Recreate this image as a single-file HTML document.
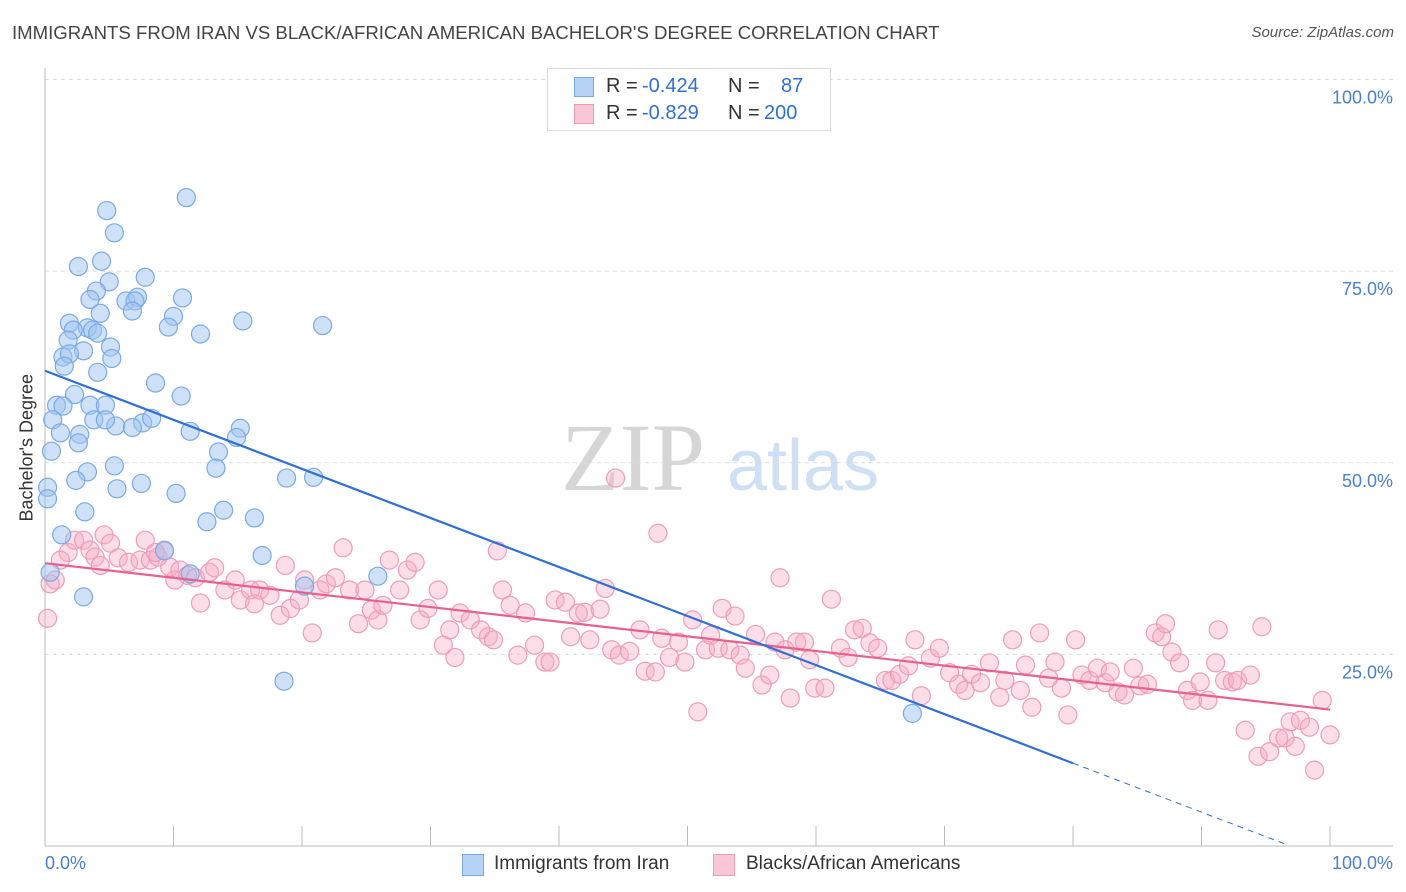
<!DOCTYPE html>
<html><head><meta charset="utf-8">
<style>
body{margin:0;background:#fff;font-family:"Liberation Sans",sans-serif;}
#wrap{position:relative;width:1406px;height:892px;overflow:hidden;}
.t{position:absolute;white-space:nowrap;}
</style></head>
<body>
<div id="wrap">
<div class="t" style="left:12px;top:22px;font-size:18.6px;color:#444;">IMMIGRANTS FROM IRAN VS BLACK/AFRICAN AMERICAN BACHELOR'S DEGREE CORRELATION CHART</div>
<div class="t" style="right:12px;top:24px;font-size:15px;color:#555;font-style:italic;">Source: ZipAtlas.com</div>
<svg id="svg" width="1406" height="892" style="position:absolute;left:0;top:0"></svg>
</div>
<script>
const blueX=[11.0,4.8,5.4,2.6,4.4,7.8,5.0,4.0,3.5,6.3,7.2,10.7,7.0,6.8,10.0,4.3,15.4,21.6,1.9,9.6,3.3,2.2,3.7,12.1,1.8,4.1,5.1,3.0,1.4,1.9,5.2,1.5,4.1,8.6,10.6,2.3,3.5,4.7,0.9,1.4,0.6,3.8,5.5,7.6,8.3,4.7,6.8,2.7,1.2,15.2,14.9,11.3,2.6,13.5,0.5,5.4,3.3,13.3,18.8,20.9,2.4,7.5,5.6,10.2,0.2,0.2,13.9,3.1,16.3,12.6,1.3,16.9,9.3,11.3,25.9,20.2,3.0,18.6,67.5,0.4];
const blueY=[84.6,82.9,80.0,75.6,76.3,74.2,73.6,72.4,71.3,71.1,71.6,71.5,71.1,69.8,69.1,69.5,68.5,67.9,68.2,67.7,67.6,67.3,67.3,66.8,66.0,66.9,65.1,64.6,63.8,64.2,63.6,62.6,61.8,60.4,58.7,58.9,57.5,57.5,57.5,57.4,55.6,55.6,54.8,55.2,55.8,55.6,54.6,53.7,53.9,54.5,53.3,54.1,52.6,51.4,51.5,49.6,48.8,49.3,48.0,48.1,47.7,47.3,46.6,46.0,46.8,45.3,43.8,43.6,42.8,42.3,40.6,37.9,38.5,35.5,35.2,33.9,32.5,21.5,17.3,35.7];
const pinkX=[44.4,47.7,0.2,0.4,0.8,1.8,2.3,3.0,3.5,3.9,4.6,5.1,5.7,6.5,7.4,7.8,8.2,8.8,9.3,9.7,10.1,10.5,11.1,11.7,12.1,12.8,13.2,14.0,14.8,15.2,16.0,16.3,16.7,17.5,18.7,18.3,19.1,19.8,20.2,20.8,21.4,21.9,22.6,23.2,23.7,24.4,24.9,25.4,25.9,26.3,26.8,27.6,28.2,28.8,29.2,29.8,30.6,31.0,31.5,31.9,32.3,33.1,33.9,34.5,34.9,35.2,35.6,36.2,36.8,37.4,38.1,38.9,39.3,39.7,40.5,40.9,41.5,42.0,42.4,43.2,43.6,44.1,44.7,45.5,46.3,46.7,47.5,48.0,48.6,49.3,49.8,50.4,50.8,51.4,51.8,52.4,52.7,53.3,53.7,54.1,54.5,55.3,55.8,56.4,56.8,57.2,57.6,58.0,58.5,59.1,59.5,59.9,60.7,61.2,61.9,62.5,63.0,63.6,64.2,64.8,65.4,65.9,66.5,67.2,67.7,68.2,68.9,69.6,70.4,71.1,71.6,72.1,72.8,73.5,74.3,74.7,75.3,75.9,76.3,76.8,77.4,78.1,78.6,79.1,79.6,80.2,80.7,81.3,81.9,82.5,82.9,83.5,84.0,84.7,85.2,85.8,86.4,86.9,87.2,87.7,88.3,88.9,89.3,89.9,90.5,91.1,91.3,91.8,92.4,92.8,93.4,93.8,94.4,94.7,95.3,96.0,96.5,96.9,97.3,97.7,98.4,98.8,99.4,100,1.2,4.3,8.6];
const pinkY=[48.0,40.8,29.7,34.2,34.7,38.3,39.9,39.9,38.6,37.7,40.6,39.5,37.6,37.0,37.3,39.9,37.3,37.7,38.6,36.4,34.7,36.0,35.3,35.0,31.7,35.7,36.3,33.4,34.7,32.1,33.4,31.6,33.4,32.7,36.6,30.1,31.0,32.1,34.7,27.8,33.4,34.2,35.0,38.9,33.4,29.0,33.4,30.8,29.5,31.4,37.3,33.4,36.0,37.0,29.5,31.0,33.4,26.2,28.2,24.6,30.4,29.5,28.2,27.3,26.9,38.5,33.4,31.4,24.9,30.4,26.2,24.0,24.0,32.1,31.8,27.3,30.4,30.5,26.9,30.9,33.6,25.6,24.9,25.4,28.2,22.8,22.7,27.1,24.6,26.6,24.0,29.5,17.5,25.6,27.5,25.8,31.0,25.6,30.0,24.9,23.2,27.6,21.0,22.3,26.6,35.0,25.6,19.3,26.6,26.6,24.3,20.6,20.6,32.2,25.8,24.6,28.2,28.4,26.5,25.8,21.6,21.6,22.4,23.5,26.9,19.6,24.5,25.8,22.6,21.1,20.3,22.4,21.3,23.9,19.4,21.6,26.9,20.3,23.6,18.1,27.8,21.9,24.0,20.6,17.1,26.9,22.3,21.6,23.2,21.3,22.7,20.1,19.7,23.2,20.9,21.1,27.8,27.3,29.0,25.3,23.9,20.3,19.0,21.4,19.0,23.9,28.2,21.6,21.4,21.6,15.1,22.3,11.7,28.6,12.3,14.1,14.1,16.2,13.0,16.4,15.5,9.9,19.0,14.5,37.3,36.6,38.3];
const blueTrend=[[0,62.0],[80,10.8]];
const blueTrendExt=[[80,10.8],[96.6,0.2]];
const pinkTrend=[[0,36.9],[100,17.8]];
const yTicks=[25,50,75,100];
const yTickLabels=["25.0%","50.0%","75.0%","100.0%"];
const xTicks=[0,10,20,30,40,50,60,70,80,90,100];

const L=45,R=1330,T=79.5,B=846;
const sx=v=>L+(R-L)*v/100;
const sy=v=>B-(B-T)*v/100;
const svg=document.getElementById('svg');
const NS='http://www.w3.org/2000/svg';
function mk(tag,attrs,parent){const e=document.createElementNS(NS,tag);for(const k in attrs)e.setAttribute(k,attrs[k]);(parent||svg).appendChild(e);return e;}

let w1=mk('text',{x:633,y:490,'font-size':96,'font-family':'Liberation Serif, serif',fill:'#d6d6d6','text-anchor':'middle'});
w1.textContent='ZIP';


let w2=mk('text',{x:803,y:490,'font-size':72,'font-family':'Liberation Sans, sans-serif',fill:'#cfe0f4','text-anchor':'middle'});
w2.textContent='atlas';



yTicks.forEach((v,i)=>{
  let g=mk('line',{x1:L,x2:1393,y1:sy(v),y2:sy(v),stroke:'#dcdcdc','stroke-dasharray':'4,4','stroke-width':1});
  
  
  let t=mk('text',{x:1393,y:sy(v)+24,'font-size':18,fill:'#4a7fd0','text-anchor':'end','font-family':'Liberation Sans, sans-serif'});
  t.textContent=yTickLabels[i];
  
  
});
let ya=mk('line',{x1:L,x2:L,y1:68,y2:B,stroke:'#bbb','stroke-width':1});


let xa=mk('line',{x1:L,x2:1393,y1:B,y2:B,stroke:'#bbb','stroke-width':1});


xTicks.forEach(v=>{
  let tk=mk('line',{x1:sx(v),x2:sx(v),y1:826,y2:B,stroke:'#bbb','stroke-width':1});
  
  
});
function pts(xs,ys,fill,stroke,name){
  xs.forEach((x,i)=>{
    let c=mk('circle',{cx:sx(x),cy:sy(ys[i]),r:9,fill:fill,stroke:stroke,'stroke-width':1.2});
    
    
  });
}
pts(pinkX,pinkY,'rgba(246,172,198,0.4)','#ef9cba','point-black-african-american');
pts(blueX,blueY,'rgba(160,196,240,0.5)','#7aaae6','point-iran');
function ln(p,stroke,w,dash,name){
  let l=mk('line',{x1:sx(p[0][0]),y1:sy(p[0][1]),x2:sx(p[1][0]),y2:sy(p[1][1]),stroke:stroke,'stroke-width':w});
  if(dash)l.setAttribute('stroke-dasharray',dash);
  
  
}
ln(pinkTrend,'#e8608e',2.2,null,'trend-line-black-african-american');
ln(blueTrend,'#2f6fd6',2.2,null,'trend-line-iran');
ln(blueTrendExt,'#2f6fd6',1,'6,5','trend-line-iran-extrapolated');
</script>
<div class="t" style="left:-38px;top:446px;font-size:18px;color:#333;transform:rotate(-90deg);width:130px;text-align:center;">Bachelor's Degree</div>
<div class="t" style="left:45px;top:853px;font-size:18px;color:#4a7fd0;">0.0%</div>
<div class="t" style="right:13px;top:853px;font-size:18px;color:#4a7fd0;">100.0%</div>
<div style="position:absolute;left:547px;top:68px;width:282px;height:61px;border:1px solid #ddd;background:#fff;font-size:20px;">
  <div style="position:absolute;left:26px;top:8px;width:18px;height:18px;background:#b6d2f4;border:1px solid #7aaae6;"></div>
  <div class="t" style="left:58px;top:6px;color:#333;">R =</div>
  <div class="t" style="left:94px;top:6px;color:#2f6fd6;">-0.424</div>
  <div class="t" style="left:180px;top:6px;color:#333;">N =</div>
  <div class="t" style="left:233px;top:6px;color:#2f6fd6;">87</div>
  <div style="position:absolute;left:26px;top:35px;width:18px;height:18px;background:#f9c6d6;border:1px solid #ef9cba;"></div>
  <div class="t" style="left:58px;top:33px;color:#333;">R =</div>
  <div class="t" style="left:94px;top:33px;color:#2f6fd6;">-0.829</div>
  <div class="t" style="left:180px;top:33px;color:#333;">N =</div>
  <div class="t" style="left:216px;top:33px;color:#2f6fd6;">200</div>
</div>
<div style="position:absolute;left:462px;top:853px;font-size:19px;color:#333;">
  <div style="position:absolute;left:0;top:1px;width:20px;height:20px;background:#b6d2f4;border:1px solid #7aaae6;"></div>
  <div class="t" style="left:32px;top:0;">Immigrants from Iran</div>
  <div style="position:absolute;left:251px;top:1px;width:20px;height:20px;background:#f9c6d6;border:1px solid #ef9cba;"></div>
  <div class="t" style="left:284px;top:0;">Blacks/African Americans</div>
</div>
</body></html>
